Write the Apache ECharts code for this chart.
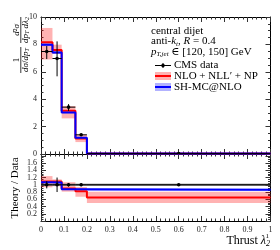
<!DOCTYPE html>
<html>
<head>
<meta charset="utf-8">
<script src="https://cdn.jsdelivr.net/npm/echarts@6/dist/echarts.min.js"></script>
<style>html,body{margin:0;padding:0;background:#fff}#c{width:280px;height:250px}</style>
</head>
<body>
<div id="c"></div>
<script>
// ---- data ----
const binEdges = [0, 0.05, 0.09, 0.15, 0.2, 1.0];
const cmsVals   = [7.48, 6.97, 3.42, 1.40, 0.03];
const cmsErrLo  = [0.55, 1.30, 0.27, 0.07, 0.005];
const cmsErrHi  = [0.40, 1.25, 0.22, 0.07, 0.005];
const nllVals   = [8.15, 7.59, 3.15, 1.14, 0.03];
const nllLo     = [6.90, 7.30, 2.60, 0.87, 0.02];
const nllHi     = [9.20, 7.98, 3.50, 1.41, 0.04];
const mcVals    = [7.98, 7.41, 3.03, 1.19, 0.03];
const mcLo      = [7.88, 7.31, 2.98, 1.16, 0.03];
const mcHi      = [8.08, 7.51, 3.08, 1.22, 0.03];
const ratioCmsErr = [0.10, 0.20, 0.05, 0.04, 0.02];
const ratioNll    = [1.09, 1.09, 0.90, 0.82, 0.65];
const ratioNllLo  = [0.93, 0.96, 0.81, 0.67, 0.50];
const ratioNllHi  = [1.24, 1.15, 1.07, 0.94, 0.81];
const ratioMc     = [1.07, 1.06, 0.88, 0.88, 0.86];
const ratioMcLo   = [1.05, 1.04, 0.86, 0.86, 0.83];
const ratioMcHi   = [1.09, 1.08, 0.90, 0.90, 0.89];
const xTicks = [0, 0.1, 0.2, 0.3, 0.4, 0.5, 0.6, 0.7, 0.8, 0.9, 1];

// ---- helpers ----
const SERIF = '"Liberation Serif", "DejaVu Serif", serif';
function stepPts(vals){const p=[];vals.forEach((v,i)=>{p.push([binEdges[i],v]);p.push([binEdges[i+1],v]);});return p;}
function bandRows(lo,hi){return lo.map((l,i)=>[binEdges[i],binEdges[i+1],l,hi[i]]);}
function errRows(vals,lo,hi){return vals.map((v,i)=>[(binEdges[i]+binEdges[i+1])/2,v,v-lo[i],v+hi[i],binEdges[i],binEdges[i+1]]);}
function bandSeries(idx,rows,color){
  return {type:'custom',xAxisIndex:idx,yAxisIndex:idx,data:rows,silent:true,clip:true,z:1,
    renderItem:(params,api)=>{const a=api.coord([api.value(0),api.value(3)]);const b=api.coord([api.value(1),api.value(2)]);
      return {type:'rect',shape:{x:a[0],y:a[1],width:b[0]-a[0],height:b[1]-a[1]},style:{fill:color}};}};
}
function stepSeries(idx,vals,color,w,z){
  return {type:'line',xAxisIndex:idx,yAxisIndex:idx,data:stepPts(vals),showSymbol:false,symbol:'none',silent:true,z:z,
    lineStyle:{color:color,width:w},clip:true};
}
function errSeries(idx,rows){
  return {type:'custom',xAxisIndex:idx,yAxisIndex:idx,data:rows,silent:true,z:10,clip:true,
    renderItem:(params,api)=>{
      const c=api.coord([api.value(0),api.value(1)]);
      const lo=api.coord([api.value(0),api.value(2)]);
      const hi=api.coord([api.value(0),api.value(3)]);
      const l=api.coord([api.value(4),api.value(1)]);
      const r=api.coord([api.value(5),api.value(1)]);
      return {type:'group',children:[
        {type:'line',shape:{x1:c[0],y1:lo[1],x2:c[0],y2:hi[1]},style:{stroke:'#000',lineWidth:1}},
        {type:'line',shape:{x1:l[0],y1:c[1],x2:r[0],y2:c[1]},style:{stroke:'#000',lineWidth:1}},
        {type:'circle',shape:{cx:c[0],cy:c[1],r:1.8},style:{fill:'#000'}}
      ]};
    }};
}
const tickCol='#333';
function xAx(grid,pos,labels){
  return {type:'value',gridIndex:grid,position:pos,min:0,max:1,interval:0.1,
    axisLine:{show:true,onZero:false,lineStyle:{color:'#000',width:1}},
    axisTick:{show:true,inside:true,length:5,lineStyle:{color:tickCol}},
    minorTick:{show:true,splitNumber:5,length:2.5,lineStyle:{color:tickCol}},
    splitLine:{show:false},
    axisLabel:{show:labels,fontFamily:SERIF,fontSize:8,color:'#222',margin:5,
      formatter:v=>{const t=xTicks.find(k=>Math.abs(k-v)<1e-6);return t===undefined?'':String(t);}}};
}
function yAx(grid,pos,min,max,interval,minorSplit,labels,labMax){
  return {type:'value',gridIndex:grid,position:pos,min:min,max:max,interval:interval,
    axisLine:{show:true,onZero:false,lineStyle:{color:'#000',width:1}},
    axisTick:{show:true,inside:true,length:5,lineStyle:{color:tickCol}},
    minorTick:{show:true,splitNumber:minorSplit,length:2.5,lineStyle:{color:tickCol}},
    splitLine:{show:false},
    axisLabel:{show:labels,fontFamily:SERIF,fontSize:8,color:'#222',margin:4,showMaxLabel:true,
      formatter:v=>(v>labMax+1e-6?'':String(Math.round(v*10)/10))}};
}

const chart = echarts.init(document.getElementById('c'), null, {renderer:'canvas'});

const rotText=(x,y,rich,text,size,style)=>({type:'text',x:x,y:y,rotation:Math.PI/2,
  style:Object.assign({x:0,y:0,text:text,align:'center',verticalAlign:'middle',font:(style||'italic')+' '+size+'px '+SERIF,fill:'#000',rich:rich||{}})});
const richMath={
  i:{fontFamily:SERIF,fontStyle:'italic',fontSize:9},
  n:{fontFamily:SERIF,fontSize:9},
  s:{fontFamily:SERIF,fontStyle:'italic',fontSize:6,verticalAlign:'bottom',padding:[3,0,0,0]},
};
const richLeg={
  i:{fontFamily:SERIF,fontStyle:'italic',fontSize:11},
  n:{fontFamily:SERIF,fontSize:11},
  s:{fontFamily:SERIF,fontStyle:'italic',fontSize:7,padding:[5,0,0,0]},
};
const LX=155, LW=16, TX=174;

const option = {
  animation:false,
  grid:[
    {left:41,top:17,width:229.5,height:137},
    {left:41,top:154,width:229.5,height:67}
  ],
  xAxis:[ xAx(0,'bottom',false), xAx(0,'top',false), xAx(1,'bottom',true), xAx(1,'top',false) ],
  yAxis:[ yAx(0,'left',0,10,2,4,true,10), yAx(0,'right',0,10,2,4,false,10),
          yAx(1,'left',0,1.85,0.2,4,true,1.65), yAx(1,'right',0,1.85,0.2,4,false,1.65) ],
  series:[
    bandSeries(0,bandRows(nllLo,nllHi),'rgba(255,0,0,0.3)'),
    bandSeries(0,bandRows(mcLo,mcHi),'rgba(0,0,255,0.3)'),
    stepSeries(0,nllVals,'#ff0000',2,3),
    stepSeries(0,mcVals,'#0000ff',2,4),
    errSeries(0,errRows(cmsVals,cmsErrLo,cmsErrHi)),
    bandSeries(2,bandRows(ratioNllLo,ratioNllHi),'rgba(255,0,0,0.3)'),
    bandSeries(2,bandRows(ratioMcLo,ratioMcHi),'rgba(0,0,255,0.3)'),
    stepSeries(2,cmsVals.map(v=>v/v),'#666666',2,2),
    stepSeries(2,ratioNll,'#ff0000',2,3),
    stepSeries(2,ratioMc,'#0000ff',2,4),
    errSeries(2,errRows(cmsVals.map(v=>1),ratioCmsErr,ratioCmsErr))
  ],
  graphic:[
    rotText(16.5,60,richMath,'1',9,'normal'),
    {type:'line',shape:{x1:20.8,y1:47,x2:20.8,y2:73},style:{stroke:'#000',lineWidth:0.8}},
    rotText(26,60,richMath,'{i|dσ}{n|/}{i|dp}{s|T}',9),
    rotText(16.5,30,richMath,'{i|d}{n|²}{i|σ}',9),
    {type:'line',shape:{x1:20.8,y1:17,x2:20.8,y2:43},style:{stroke:'#000',lineWidth:0.8}},
    rotText(26,30,richMath,'{i|dp}{s|T}{n| }{i|d}{i|λ}{s|2}',9),
    rotText(15,188,null,'Theory / Data',11,'normal'),
    {type:'text',x:270,y:241,style:{x:0,y:0,text:'Thrust {i|λ}{s|2}',align:'right',verticalAlign:'middle',font:'12px '+SERIF,fill:'#000',
      rich:{i:{fontFamily:SERIF,fontStyle:'italic',fontSize:12},s:{fontFamily:SERIF,fontStyle:'italic',fontSize:8,padding:[5,0,0,0]}}}},
    {type:'text',x:269,y:236,style:{x:0,y:0,text:'1',align:'right',verticalAlign:'middle',font:'7px '+SERIF,fill:'#000'}},
    {type:'text',x:151,y:31,style:{x:0,y:0,text:'central dijet',verticalAlign:'middle',font:'11px '+SERIF,fill:'#000'}},
    {type:'text',x:151,y:41.5,style:{x:0,y:0,text:'{n|anti-}{i|k}{s|t}{n|, }{i|R}{n| = 0.4}',verticalAlign:'middle',font:'11px '+SERIF,fill:'#000',rich:richLeg}},
    {type:'text',x:151,y:52,style:{x:0,y:0,text:'{i|p}{s|T,jet}{n| ∈ [120, 150] GeV}',verticalAlign:'middle',font:'11px '+SERIF,fill:'#000',rich:richLeg}},
    {type:'line',shape:{x1:LX,y1:65.5,x2:LX+LW,y2:65.5},style:{stroke:'#000',lineWidth:1}},
    {type:'line',shape:{x1:LX+LW/2,y1:63,x2:LX+LW/2,y2:68},style:{stroke:'#000',lineWidth:1}},
    {type:'circle',shape:{cx:LX+LW/2,cy:65.5,r:1.8},style:{fill:'#000'}},
    {type:'text',x:TX,y:65.5,style:{x:0,y:0,text:'CMS data',verticalAlign:'middle',font:'11px '+SERIF,fill:'#000'}},
    {type:'rect',shape:{x:LX,y:72,width:LW,height:8},style:{fill:'rgba(255,0,0,0.3)'}},
    {type:'line',shape:{x1:LX,y1:76,x2:LX+LW,y2:76},style:{stroke:'#ff0000',lineWidth:2}},
    {type:'text',x:TX,y:76,style:{x:0,y:0,text:'NLO + NLL′ + NP',verticalAlign:'middle',font:'11px '+SERIF,fill:'#000'}},
    {type:'rect',shape:{x:LX,y:83,width:LW,height:8},style:{fill:'rgba(0,0,255,0.3)'}},
    {type:'line',shape:{x1:LX,y1:87,x2:LX+LW,y2:87},style:{stroke:'#0000ff',lineWidth:2}},
    {type:'text',x:TX,y:87,style:{x:0,y:0,text:'SH-MC@NLO',verticalAlign:'middle',font:'11px '+SERIF,fill:'#000'}}
  ]
};
chart.setOption(option);
</script>
</body>
</html>
